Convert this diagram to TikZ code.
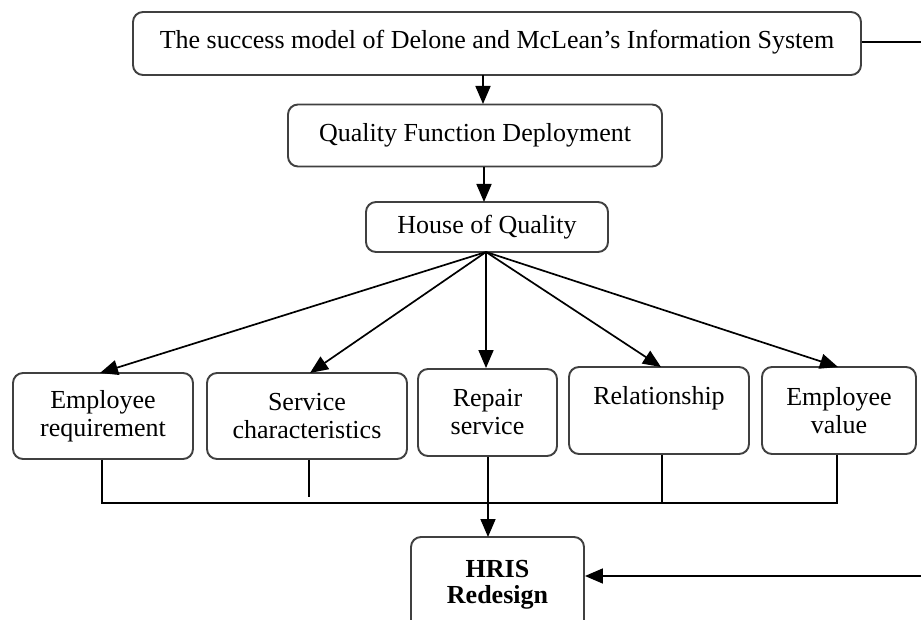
\documentclass[tikz,border=0pt]{standalone}
\usepackage{fontspec}
\setmainfont{Liberation Serif}
\usetikzlibrary{arrows.meta}
\begin{document}
\begin{tikzpicture}[x=1pt,y=-1pt,
  box/.style={draw=black!75, line width=1.9pt, rounded corners=10pt, align=center,
    inner sep=0pt, font=\fontsize{26}{28}\selectfont},
  link/.style={line width=1.7pt},
  arrow/.style={link, -{Triangle[length=18pt,width=15pt]}},
  lbl/.style={font=\fontsize{26}{28}\selectfont, inner sep=0pt, anchor=base}]
\useasboundingbox (0,0) rectangle (921,620);
\clip (0,0) rectangle (921,620);
% main chain
\node[box, minimum width=728pt, minimum height=63pt] (model) at (497,43.5) {};
\node[lbl] at (497,49) {The success model of Delone and McLean’s Information System};
\node[box, minimum width=374pt, minimum height=62pt] (qfd) at (475,135.5) {Quality Function Deployment};
\node[box, minimum width=242pt, minimum height=50pt] (hoq) at (487,227) {House of Quality};
% quality dimensions
\node[box, minimum width=180pt, minimum height=86pt] (er) at (103,416) {Employee\\requirement};
\node[box, minimum width=200pt, minimum height=86pt] (sc) at (307,416) {Service\\characteristics};
\node[box, minimum width=139pt, minimum height=87pt] (rs) at (487.5,412.5) {Repair\\service};
\node[box, minimum width=180pt, minimum height=87pt] (rel) at (659,410.5) {};
\node[lbl] at (rel.north |- 0,404) {Relationship};
\node[box, minimum width=154pt, minimum height=87pt] (ev) at (839,410.5) {Employee\\value};
% result
\node[box, minimum width=173pt, minimum height=96pt] (hris) at (497.5,585) {};
\node[lbl, font=\fontsize{26}{28}\selectfont\bfseries] at (hris.north |- 0,577) {HRIS};
\node[lbl, font=\fontsize{26}{28}\selectfont\bfseries] at (hris.north |- 0,603) {Redesign};
% connectors
\coordinate (hq) at (486,252);
\coordinate (edgeA) at (921,42);
\coordinate (edgeB) at (921,576);
\draw[arrow] (483,75) -- (483,104);
\draw[arrow] (484,167) -- (484,202);
\draw[arrow] (hq) -- (100,373);
\draw[arrow] (hq) -- (310,373);
\draw[arrow] (hq) -- (hq |- rs.north);
\draw[arrow] (hq) -- (661,367);
\draw[arrow] (hq) -- (838,367);
\draw[link] (er.south -| 102,0) -- (102,503) -- (838,503);
\draw[link] (sc.south -| 309,0) -- (309,497);
\draw[link] (rel.south -| 662,0) -- (662,503);
\draw[link] (ev.south -| 837,0) -- (837,503);
\draw[arrow] (rs.south -| 488,0) -- (488,537);
\draw[link] (model.east |- edgeA) -- (edgeA);
\draw[arrow] (edgeB) -- (hris.east |- edgeB);
\end{tikzpicture}
\end{document}
